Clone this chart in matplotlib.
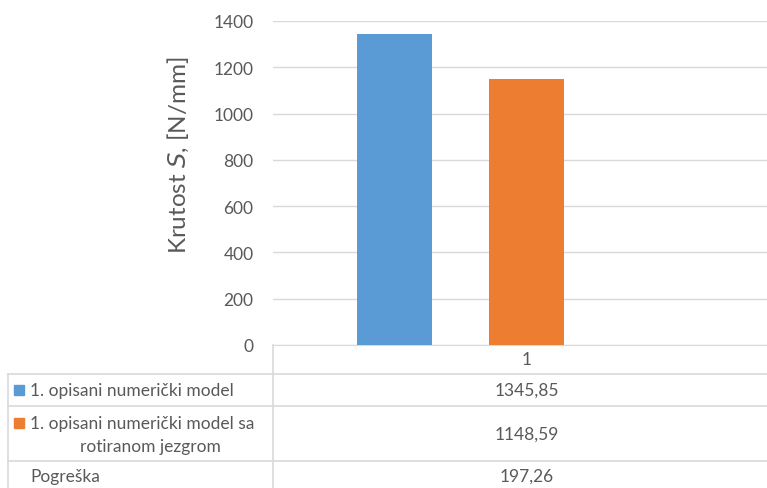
import matplotlib
matplotlib.use('Agg')
import matplotlib.pyplot as plt
from matplotlib.patches import Rectangle

# podaci
kategorije = ['1']
serije = ['1. opisani numerički model', '1. opisani numerički model sa\nrotiranom jezgrom']
vrijednosti = [1345.85, 1148.59]
pogreska = [197.26]
boje = ['#5b9bd5', '#ed7d31']
yticks = [0, 200, 400, 600, 800, 1000, 1200, 1400]

plt.rcParams['font.family'] = ['Lato', 'DejaVu Sans']
siva = '#595959'
linija = '#d9d9d9'
fs = 12.5

W, H = 767, 489
fig = plt.figure(figsize=(W / 100, H / 100), dpi=100)

def fx(px):
    return px / W

def fy(py):
    return 1 - py / H

# os grafa (pikseli: x 273..767, y 22..346)
ax = fig.add_axes([fx(273), fy(346), fx(767) - fx(273), fy(22) - fy(346)])
pomaci = [-0.25, 0.25]
for i, v in enumerate(vrijednosti):
    ax.bar(0 + pomaci[i], v, width=0.283, color=boje[i], zorder=3)
ax.set_xlim(-0.7085, 1.156)
ax.set_ylim(0, 1400)
ax.set_yticks(yticks)
ax.set_yticklabels([str(t) for t in yticks], fontsize=fs, color=siva)
ax.tick_params(axis='y', length=0, pad=14)
ax.set_xticks([])
ax.grid(axis='y', color=linija, linewidth=1, zorder=0)
for s in ['top', 'right', 'left']:
    ax.spines[s].set_visible(False)
ax.spines['bottom'].set_color(linija)

fig.text(fx(178), fy(155), 'Krutost $\\mathit{S}$, [N/mm]', rotation=90,
         ha='center', va='center', fontsize=17.5, color=siva)

# tablica podataka
def hline(y, x0, x1=767):
    fig.add_artist(plt.Line2D([fx(x0), fx(x1)], [fy(y), fy(y)], color=linija, lw=1.2))

def vline(x, y0, y1=489):
    fig.add_artist(plt.Line2D([fx(x), fx(x)], [fy(y0), fy(y1)], color=linija, lw=1.2))

hline(375, 8)
hline(407, 8)
hline(462, 8)
vline(273, 346)
vline(8, 375)

cx = 527
fig.text(fx(cx), fy(360), kategorije[0], ha='center', va='center', fontsize=fs, color=siva)

# oznake serija (kvadratići) i vrijednosti
oznaka_y = [391, 424]
vrijednost_y = [391, 434.5]
for i in range(len(serije)):
    fig.add_artist(Rectangle((fx(14), fy(oznaka_y[i] + 5)), 10 / W, 10 / H,
                             transform=fig.transFigure, color=boje[i]))
    fig.text(fx(cx), fy(vrijednost_y[i]), f'{vrijednosti[i]:.2f}'.replace('.', ','),
             ha='center', va='center', fontsize=fs, color=siva)

fig.text(fx(30), fy(391), serije[0], ha='left', va='center', fontsize=fs, color=siva)
prvi, drugi = serije[1].split('\n')
fig.text(fx(30), fy(424), prvi, ha='left', va='center', fontsize=fs, color=siva)
fig.text(fx(150), fy(447), drugi, ha='center', va='center', fontsize=fs, color=siva)

fig.text(fx(30), fy(477), 'Pogreška', ha='left', va='center', fontsize=fs, color=siva)
fig.text(fx(cx), fy(477), f'{pogreska[0]:.2f}'.replace('.', ','), ha='center', va='center', fontsize=fs, color=siva)

fig.savefig('out.png', dpi=100)
